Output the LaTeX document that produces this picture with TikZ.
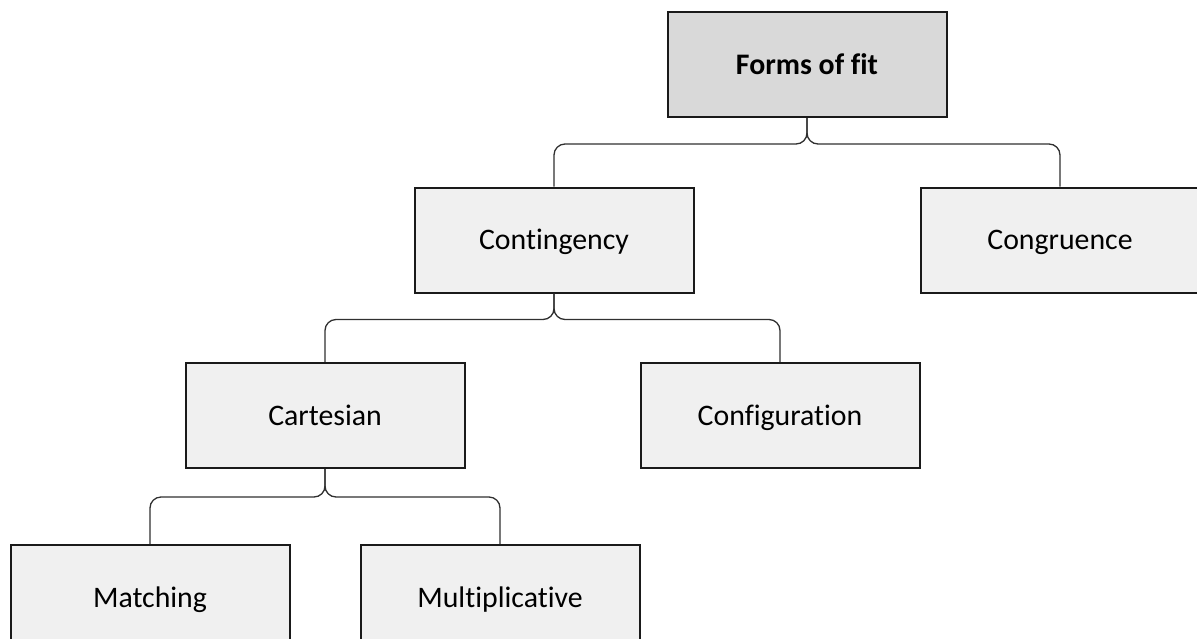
\documentclass[tikz,border=0pt]{standalone}
\usepackage{fontspec}
\setmainfont{Carlito}[Ligatures=NoCommon]
\usetikzlibrary{calc}
\definecolor{rootfill}{HTML}{D9D9D9}
\definecolor{boxfill}{HTML}{F0F0F0}
\definecolor{boxline}{HTML}{1A1A1A}
\definecolor{linkline}{HTML}{303030}
\begin{document}
\begin{tikzpicture}[x=1pt,y=-1pt,
  box/.style={draw=boxline, line width=2pt, fill=boxfill, minimum width=279pt,
    minimum height=105pt, inner sep=0pt, text height=19pt, text depth=0pt,
    font=\fontsize{29.8}{36}\selectfont},
  rootbox/.style={box, fill=rootfill, font=\fontsize{29.8}{36}\selectfont\bfseries},
  link/.style={draw=linkline, line width=1.3pt, rounded corners=11pt}]
\useasboundingbox (0,0) rectangle (1197,638);
\clip (0,0) rectangle (1197,638);

% boxes of the tree
\node[rootbox] (fit)  at (807,64.5)   {Forms of fit};
\node[box] (cont)     at (554,240)    {Contingency};
\node[box] (cong)     at (1060,240)   {Congruence};
\node[box] (cart)     at (325,415.5)  {Cartesian};
\node[box] (conf)     at (780,415.5)  {Configuration};
\node[box] (match)    at (150,597.5)  {Matching};
\node[box] (mult)     at (500,597.5)  {Multiplicative};

% branching points below each parent
\coordinate (jfit)  at ($(fit.south)+(0,26)$);
\coordinate (jcont) at ($(cont.south)+(0,26)$);
\coordinate (jcart) at ($(cart.south)+(0,28)$);

% connectors
\draw[link] (fit.south)  -- (jfit)  -| (cont.north);
\draw[link] (fit.south)  -- (jfit)  -| (cong.north);
\draw[link] (cont.south) -- (jcont) -| (cart.north);
\draw[link] (cont.south) -- (jcont) -| (conf.north);
\draw[link] (cart.south) -- (jcart) -| (match.north);
\draw[link] (cart.south) -- (jcart) -| (mult.north);
\end{tikzpicture}
\end{document}
